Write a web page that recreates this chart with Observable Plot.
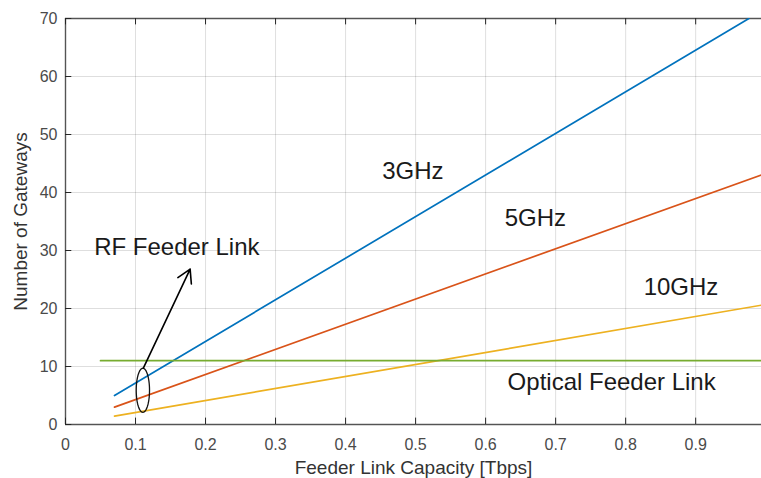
<!DOCTYPE html>
<html>
<head>
<meta charset="utf-8">
<script src="https://cdn.jsdelivr.net/npm/d3@7"></script>
<script src="https://cdn.jsdelivr.net/npm/@observablehq/plot@0.6"></script>
<style>
  body { margin: 0; background: #fff; }
  #chart svg { display: block; }
</style>
</head>
<body>
<div id="chart"></div>
<script>
// Data
const xTicks = [0, 0.1, 0.2, 0.3, 0.4, 0.5, 0.6, 0.7, 0.8, 0.9];
const yTicks = [0, 10, 20, 30, 40, 50, 60, 70];

const seriesNames = ["3GHz", "5GHz", "10GHz", "Optical Feeder Link"];
const seriesColors = ["#0072BD", "#D95319", "#EDB120", "#77AC30"];
const blueX = [0.07, 0.976];   const blueY = [5.0, 70];
const orangeX = [0.07, 1.0];   const orangeY = [3.0, 43.3];
const yellowX = [0.07, 1.0];   const yellowY = [1.45, 20.7];
const greenX = [0.05, 1.0];    const greenY = [11, 11];

const labelText = ["3GHz", "5GHz", "10GHz", "RF Feeder Link", "Optical Feeder Link"];
const labelX = [0.496, 0.671, 0.879, 0.159, 0.78];
const labelY = [43.6, 35.5, 23.6, 30.5, 7.2];

// annotation: ellipse + arrow
const ellipseCenter = [0.1105, 5.9];
const ellipseRadii = [0.0095, 3.8];
const arrowFrom = [0.1115, 9.8];
const arrowTo = [0.178, 26.8];

const lines = [
  ...blueX.map((x, i) => ({s: seriesNames[0], x, y: blueY[i]})),
  ...orangeX.map((x, i) => ({s: seriesNames[1], x, y: orangeY[i]})),
  ...yellowX.map((x, i) => ({s: seriesNames[2], x, y: yellowY[i]})),
  ...greenX.map((x, i) => ({s: seriesNames[3], x, y: greenY[i]}))
];
const labels = labelText.map((t, i) => ({t, x: labelX[i], y: labelY[i]}));
const ellipse = d3.range(0, 361, 6).map(a => ({
  x: ellipseCenter[0] + ellipseRadii[0] * Math.cos(a * Math.PI / 180),
  y: ellipseCenter[1] + ellipseRadii[1] * Math.sin(a * Math.PI / 180)
}));

const axisColor = "#262626";
const font = "'Liberation Sans', Arial, Helvetica, sans-serif";

const chart = Plot.plot({
  width: 761,
  height: 478,
  marginLeft: 65,
  marginRight: 0,
  marginTop: 18,
  marginBottom: 54,
  style: {fontFamily: font, fontSize: "16px", color: axisColor, background: "#fff"},
  x: {domain: [0, 0.994], ticks: xTicks},
  y: {domain: [0, 70], ticks: yTicks},
  color: {domain: seriesNames, range: seriesColors},
  marks: [
    Plot.gridX(xTicks, {stroke: "#000", strokeOpacity: 0.13}),
    Plot.gridY(yTicks, {stroke: "#000", strokeOpacity: 0.13}),
    Plot.axisX({ticks: xTicks, tickSize: 0, tickPadding: 14, fontSize: 16, fill: "#4a4a4a",
      tickFormat: d => String(d), label: null}),
    Plot.axisX({ticks: [], tickSize: 0, fontSize: 19, fill: "#333",
      label: "Feeder Link Capacity [Tbps]", labelAnchor: "center", labelArrow: "none", labelOffset: 49}),
    Plot.axisY({ticks: yTicks, tickSize: 0, tickPadding: 8, fontSize: 16, fill: "#4a4a4a", label: null}),
    Plot.axisY({ticks: [], tickSize: 0, fontSize: 19, fill: "#333",
      label: "Number of Gateways", labelAnchor: "center", labelArrow: "none", labelOffset: 52}),
    // inward ticks
    Plot.ruleX(xTicks, {y1: 0, y2: 1.1, stroke: axisColor, strokeWidth: 1}),
    Plot.ruleX(xTicks, {y1: 70, y2: 68.9, stroke: axisColor, strokeWidth: 1}),
    Plot.ruleY(yTicks, {x1: 0, x2: 0.009, stroke: axisColor, strokeWidth: 1}),
    // box
    Plot.ruleY([0, 70], {stroke: axisColor, strokeOpacity: 0.75, strokeWidth: 1.4}),
    Plot.ruleX([0], {stroke: axisColor, strokeOpacity: 0.75, strokeWidth: 1.4}),
    Plot.line(lines, {x: "x", y: "y", z: "s", stroke: "s", strokeWidth: 1.7, clip: true}),
    Plot.line(ellipse, {x: "x", y: "y", stroke: "#111", strokeWidth: 1.3, curve: "linear-closed"}),
    Plot.arrow([{x1: arrowFrom[0], y1: arrowFrom[1], x2: arrowTo[0], y2: arrowTo[1]}],
      {x1: "x1", y1: "y1", x2: "x2", y2: "y2", stroke: "#000", strokeWidth: 1.6, headLength: 14}),
    Plot.text(labels, {x: "x", y: "y", text: "t", fontSize: 24, fill: "#1a1a1a"})
  ]
});
document.getElementById("chart").appendChild(chart);
</script>
</body>
</html>
